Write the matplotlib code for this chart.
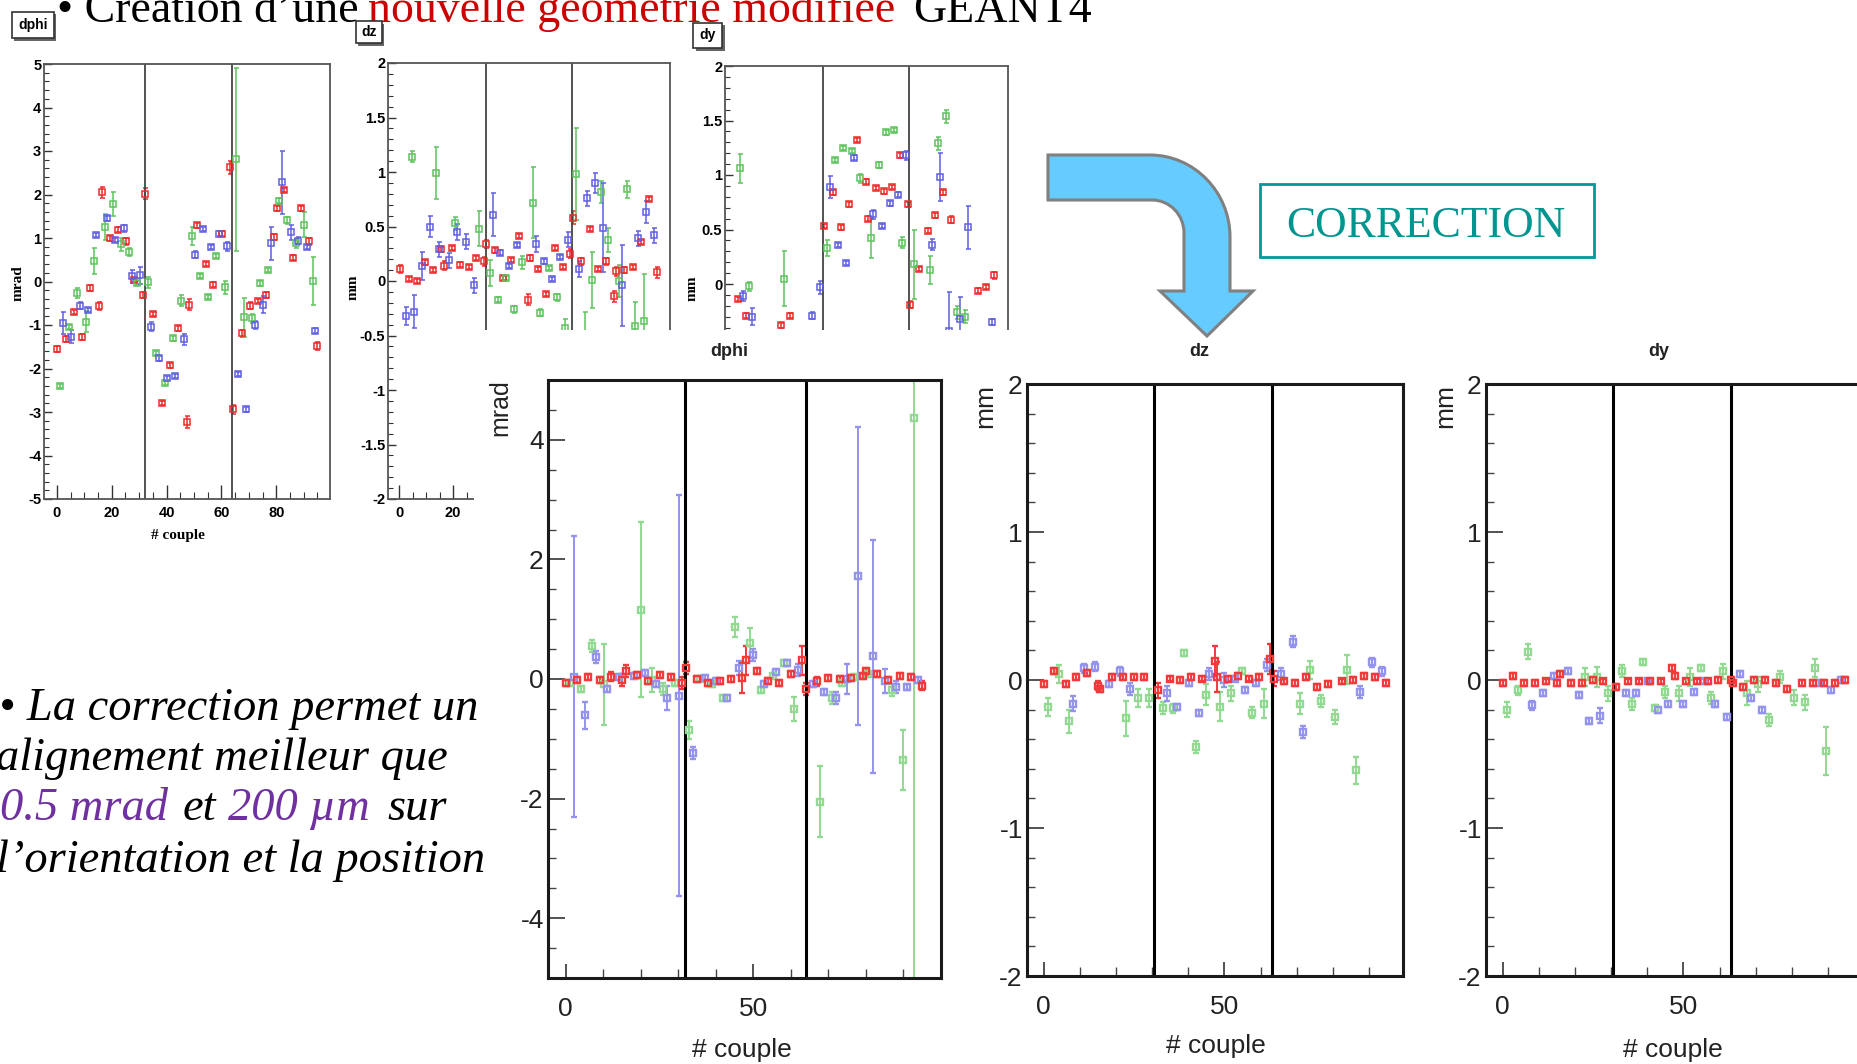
import matplotlib
matplotlib.use("Agg")
import matplotlib.pyplot as plt
from matplotlib.patches import Rectangle, PathPatch
from matplotlib.path import Path
from matplotlib.ticker import MultipleLocator, FixedLocator, FuncFormatter

W, H = 1858, 1064

# (couple, value, error) -- "before" = small plots at top
before_dphi_red = [
    (0.2, -1.55, 0.06), (3.3, -1.32, 0.06), (6.3, -0.70, 0.05), (9.2, -1.28, 0.07),
    (12.2, -0.15, 0.06), (15.3, -0.56, 0.10), (16.4, 2.05, 0.12), (19.5, 0.99, 0.06),
    (22.4, 1.19, 0.06), (25.3, 0.92, 0.07), (28.2, 0.04, 0.05), (31.4, -0.30, 0.07),
    (32.1, 2.02, 0.12), (35.1, -0.74, 0.05), (38.2, -2.80, 0.05), (41.1, -1.93, 0.05),
    (44.1, -1.08, 0.05), (47.3, -3.23, 0.13), (48.3, -0.53, 0.13), (51.2, 1.29, 0.05),
    (54.2, 0.40, 0.05), (57.1, -0.07, 0.05), (60.2, 1.10, 0.05), (63.2, 2.63, 0.15),
    (64.1, -2.94, 0.10), (67.4, -1.19, 0.08), (70.3, -0.56, 0.08), (73.3, -0.45, 0.05),
    (76.2, -0.31, 0.06), (79.3, 1.02, 0.07), (80.1, 1.68, 0.06), (83.0, 2.11, 0.05),
    (86.1, 0.55, 0.05), (89.1, 1.68, 0.06), (92.0, 0.92, 0.08), (95.0, -1.48, 0.10),
]
before_dphi_green = [
    (1.2, -2.40, 0.05), (4.5, -1.05, 0.05), (7.5, -0.26, 0.12), (10.5, -0.92, 0.25),
    (13.5, 0.47, 0.30), (17.4, 1.26, 0.30), (20.3, 1.78, 0.28), (23.3, 0.86, 0.15),
    (26.3, 0.68, 0.10), (29.2, -0.04, 0.05), (33.3, -0.02, 0.12), (36.2, -1.64, 0.05),
    (39.3, -2.34, 0.05), (42.3, -1.31, 0.05), (45.3, -0.44, 0.13), (49.1, 1.05, 0.20),
    (52.2, 0.12, 0.05), (55.1, -0.35, 0.05), (58.1, 0.59, 0.05), (61.2, -0.13, 0.15),
    (65.3, 2.81, 2.10), (68.2, -0.82, 0.45), (71.2, -0.85, 0.10), (74.2, -0.04, 0.06),
    (77.1, 0.26, 0.05), (81.1, 1.86, 0.05), (84.0, 1.41, 0.08), (87.1, 0.88, 0.10),
    (90.2, 1.31, 0.28), (93.3, 0.02, 0.55),
]
before_dphi_blue = [
    (2.3, -0.95, 0.25), (5.3, -1.27, 0.15), (8.4, -0.56, 0.08), (11.3, -0.66, 0.05),
    (14.3, 1.07, 0.05), (18.2, 1.45, 0.05), (21.3, 0.96, 0.05), (24.4, 1.22, 0.08),
    (27.5, 0.12, 0.15), (30.4, 0.14, 0.20), (34.3, -1.04, 0.10), (37.3, -1.77, 0.05),
    (40.1, -2.22, 0.05), (43.2, -2.17, 0.05), (46.2, -1.33, 0.12), (50.3, 0.61, 0.08),
    (53.4, 1.21, 0.05), (56.3, 0.79, 0.05), (59.3, 1.10, 0.05), (62.2, 0.81, 0.10),
    (66.1, -2.12, 0.05), (69.1, -2.94, 0.05), (72.1, -1.00, 0.10), (75.1, -0.53, 0.20),
    (78.1, 0.88, 0.38), (82.2, 2.28, 0.72), (85.2, 1.13, 0.18), (88.1, 0.94, 0.08),
    (91.2, 0.80, 0.05), (94.2, -1.13, 0.05),
]

before_dz_red = [
    (0.5, 0.11, 0.04), (3.5, 0.02, 0.02), (6.5, 0.00, 0.02), (9.5, 0.17, 0.02),
    (12.6, 0.10, 0.02), (15.4, 0.29, 0.02), (16.7, 0.14, 0.04), (19.6, 0.30, 0.02),
    (22.7, 0.15, 0.02), (25.7, 0.13, 0.02), (28.5, 0.21, 0.02), (31.5, 0.18, 0.04),
    (32.3, 0.34, 0.04), (35.3, 0.28, 0.02), (38.4, 0.03, 0.02), (41.4, 0.19, 0.02),
    (44.4, 0.41, 0.02), (47.7, -0.17, 0.05), (48.5, 0.21, 0.03), (51.5, 0.11, 0.02),
    (54.4, -0.12, 0.02), (57.5, 0.30, 0.02), (60.5, 0.13, 0.02), (63.3, 0.25, 0.04),
    (64.3, 0.58, 0.06), (67.4, 0.18, 0.03), (70.5, 0.48, 0.02), (73.5, 0.11, 0.02),
    (76.4, 0.18, 0.03), (79.5, -0.14, 0.05), (80.4, 0.09, 0.04), (83.3, 0.10, 0.03),
    (86.4, 0.13, 0.02), (89.4, 0.36, 0.02), (92.3, 0.75, 0.02), (95.3, 0.08, 0.05),
]
before_dz_green = [
    (4.7, 1.14, 0.05), (13.7, 0.99, 0.24), (20.6, 0.53, 0.06), (29.4, 0.48, 0.16),
    (33.7, 0.07, 0.12), (36.7, -0.17, 0.02), (39.6, 0.03, 0.02), (42.6, -0.26, 0.03),
    (45.6, 0.17, 0.06), (49.4, 0.72, 0.33), (52.3, -0.29, 0.03), (55.4, 0.12, 0.02),
    (58.4, -0.15, 0.03), (61.4, -0.43, 0.08), (65.6, 0.98, 0.42), (68.6, -0.55, 0.27),
    (71.5, 0.01, 0.26), (74.6, 0.82, 0.10), (77.4, 0.38, 0.11), (81.4, 0.00, 0.15),
    (84.2, 0.84, 0.08), (87.3, -0.41, 0.22), (90.5, -0.37, 0.43),
]
before_dz_blue = [
    (2.7, -0.32, 0.08), (5.7, -0.28, 0.15), (8.6, 0.14, 0.13), (11.6, 0.50, 0.10),
    (14.6, 0.29, 0.07), (18.4, 0.19, 0.07), (21.3, 0.45, 0.07), (24.7, 0.36, 0.07),
    (27.7, -0.04, 0.07), (34.6, 0.61, 0.20), (37.5, 0.26, 0.02), (40.5, 0.14, 0.02),
    (43.5, 0.33, 0.02), (50.6, 0.34, 0.07), (53.7, 0.18, 0.02), (56.5, 0.02, 0.02),
    (59.5, 0.22, 0.02), (62.6, 0.38, 0.07), (66.4, 0.11, 0.07), (69.4, 0.76, 0.07),
    (72.3, 0.90, 0.09), (75.3, 0.49, 0.41), (82.5, -0.04, 0.37), (88.4, 0.39, 0.07),
    (91.4, 0.63, 0.10), (94.3, 0.42, 0.07),
]

before_dy_red = [
    (0.1, -0.14, 0.02), (3.1, -0.29, 0.02), (16.3, -0.38, 0.02), (19.4, -0.29, 0.02),
    (32.4, 0.53, 0.02), (35.5, 0.84, 0.02), (38.5, 0.52, 0.02), (41.5, 0.73, 0.02),
    (44.5, 1.32, 0.02), (47.8, 0.94, 0.02), (48.6, 0.60, 0.02), (51.7, 0.88, 0.02),
    (54.7, 0.85, 0.02), (57.7, 0.89, 0.02), (60.6, 1.18, 0.02), (63.6, 0.73, 0.02),
    (64.5, -0.19, 0.03), (67.7, 0.14, 0.02), (70.9, 0.49, 0.02), (73.8, 0.63, 0.02),
    (76.8, 0.84, 0.02), (79.8, 0.59, 0.03), (89.8, -0.06, 0.02), (92.8, -0.03, 0.02),
    (95.8, 0.08, 0.03),
]
before_dy_green = [
    (1.0, 1.06, 0.13), (4.4, -0.02, 0.04), (17.3, 0.05, 0.25), (33.5, 0.33, 0.07),
    (36.5, 1.14, 0.02), (39.5, 1.25, 0.02), (42.6, 1.22, 0.02), (45.7, 0.97, 0.04),
    (49.6, 0.42, 0.18), (52.6, 1.09, 0.03), (55.5, 1.39, 0.02), (58.5, 1.41, 0.02),
    (61.5, 0.38, 0.05), (65.8, 0.18, 0.32), (71.7, 0.13, 0.13), (74.7, 1.29, 0.06),
    (77.7, 1.54, 0.06), (81.7, -0.26, 0.06), (84.7, -0.30, 0.06),
]
before_dy_blue = [
    (2.2, -0.11, 0.05), (5.2, -0.30, 0.08), (27.6, -0.29, 0.03), (30.8, -0.03, 0.06),
    (34.5, 0.89, 0.10), (37.5, 0.36, 0.02), (40.5, 0.19, 0.02), (43.5, 1.16, 0.02),
    (50.7, 0.64, 0.04), (53.7, 0.53, 0.02), (56.7, 0.74, 0.02), (59.7, 0.82, 0.02),
    (62.8, 1.18, 0.04), (72.6, 0.36, 0.05), (75.6, 0.98, 0.22), (78.7, -0.43, 0.36),
    (82.9, -0.32, 0.20), (85.8, 0.52, 0.20), (94.9, -0.35, 0.03),
]

# "after" = the three large plots after correction
after_dphi_red = [
    (0.0, -0.06, 0.05), (3.0, -0.02, 0.05), (6.0, 0.04, 0.05), (9.1, -0.02, 0.05),
    (12.0, 0.04, 0.08), (15.1, -0.02, 0.10), (16.0, 0.14, 0.10), (19.0, 0.06, 0.05),
    (22.0, -0.04, 0.05), (25.1, 0.06, 0.05), (28.0, 0.04, 0.05), (31.0, -0.06, 0.10),
    (32.2, 0.19, 0.10), (35.1, 0.00, 0.05), (38.0, -0.06, 0.05), (41.1, -0.04, 0.05),
    (44.0, 0.00, 0.05), (47.1, 0.02, 0.25), (48.0, 0.31, 0.25), (50.9, 0.14, 0.05),
    (54.0, -0.04, 0.05), (56.9, -0.06, 0.05), (60.1, 0.08, 0.05), (63.1, 0.31, 0.25),
    (64.2, -0.17, 0.10), (67.1, -0.04, 0.08), (70.0, 0.02, 0.05), (73.1, 0.00, 0.05),
    (76.0, 0.02, 0.05), (79.2, 0.05, 0.05), (80.1, 0.14, 0.05), (83.1, 0.09, 0.05),
    (86.0, -0.02, 0.05), (89.1, 0.05, 0.05), (92.0, 0.04, 0.05), (94.9, -0.11, 0.08),
]
after_dphi_green = [
    (1.1, -0.06, 0.05), (4.2, -0.17, 0.05), (7.1, 0.55, 0.10), (10.1, -0.09, 0.68),
    (20.0, 1.16, 1.46), (23.0, -0.02, 0.20), (26.0, -0.17, 0.10), (29.1, -0.06, 0.05),
    (32.9, -0.86, 0.15), (35.9, 0.00, 0.05), (38.9, -0.08, 0.05), (42.0, -0.32, 0.05),
    (45.1, 0.87, 0.16), (49.1, 0.61, 0.25), (52.0, -0.19, 0.05), (55.2, 0.05, 0.05),
    (58.2, 0.27, 0.05), (60.9, -0.50, 0.20), (67.8, -2.05, 0.60), (70.9, -0.31, 0.10),
    (73.8, -0.06, 0.05), (76.9, 0.04, 0.05), (80.7, 0.09, 0.05), (86.9, -0.19, 0.10),
    (90.0, -1.36, 0.50), (93.0, 4.37, 9.50),
]
after_dphi_blue = [
    (2.1, 0.04, 2.35), (5.2, -0.61, 0.22), (8.1, 0.37, 0.10), (11.1, -0.17, 0.05),
    (14.1, 0.04, 0.05), (18.1, 0.05, 0.05), (21.1, 0.10, 0.05), (24.0, -0.08, 0.05),
    (27.1, -0.32, 0.20), (30.2, -0.28, 3.35), (34.0, -1.23, 0.10), (37.1, 0.02, 0.05),
    (40.0, -0.04, 0.05), (43.1, -0.31, 0.05), (46.2, 0.18, 0.12), (50.0, 0.40, 0.10),
    (52.9, -0.09, 0.05), (56.0, 0.11, 0.05), (58.9, 0.27, 0.05), (62.0, 0.15, 0.10),
    (66.0, -0.09, 0.05), (68.9, -0.21, 0.05), (72.0, -0.32, 0.10), (75.1, 0.00, 0.25),
    (78.0, 1.72, 2.49), (82.0, 0.38, 1.95), (85.1, -0.04, 0.20), (88.1, -0.14, 0.10),
    (91.1, -0.14, 0.05), (94.0, -0.02, 0.05),
]

after_dz_red = [
    (0.2, -0.03, 0.02), (3.0, 0.06, 0.02), (6.2, -0.03, 0.02), (9.0, 0.02, 0.02),
    (12.0, 0.05, 0.02), (15.0, -0.04, 0.03), (15.7, -0.06, 0.02), (18.9, 0.02, 0.02),
    (21.9, 0.02, 0.02), (24.9, 0.02, 0.02), (27.9, 0.02, 0.02), (31.5, -0.07, 0.05),
    (34.9, 0.01, 0.02), (37.8, 0.00, 0.02), (40.8, 0.02, 0.02), (43.8, 0.01, 0.02),
    (47.5, 0.13, 0.10), (48.0, 0.02, 0.10), (50.9, 0.01, 0.02), (53.8, 0.03, 0.02),
    (56.7, 0.01, 0.02), (59.7, 0.02, 0.02), (62.7, 0.14, 0.10), (63.8, 0.01, 0.05),
    (66.4, -0.01, 0.02), (69.6, -0.02, 0.02), (72.7, 0.02, 0.02), (75.6, -0.05, 0.02),
    (78.6, -0.03, 0.02), (82.6, -0.01, 0.02), (85.6, 0.00, 0.02), (88.6, 0.03, 0.02),
    (91.6, 0.02, 0.02), (94.6, -0.02, 0.02),
]
after_dz_green = [
    (1.1, -0.18, 0.06), (4.2, 0.04, 0.06), (7.1, -0.28, 0.08), (22.9, -0.26, 0.12),
    (26.1, -0.12, 0.06), (29.1, -0.12, 0.06), (33.0, -0.19, 0.04), (35.8, -0.19, 0.03),
    (38.7, 0.18, 0.02), (42.1, -0.45, 0.04), (44.8, -0.10, 0.07), (48.9, -0.18, 0.10),
    (51.8, -0.09, 0.05), (54.9, 0.06, 0.02), (57.7, -0.22, 0.04), (60.9, -0.16, 0.10),
    (71.0, -0.16, 0.07), (73.6, 0.07, 0.06), (76.8, -0.14, 0.04), (80.6, -0.25, 0.05),
    (83.8, 0.07, 0.10), (86.5, -0.61, 0.09),
]
after_dz_blue = [
    (8.1, -0.16, 0.05), (11.1, 0.08, 0.03), (14.1, 0.09, 0.03), (18.0, -0.03, 0.02),
    (21.0, 0.06, 0.03), (23.9, -0.06, 0.04), (34.1, -0.09, 0.05), (36.9, -0.18, 0.02),
    (40.1, -0.02, 0.02), (43.0, -0.22, 0.02), (45.7, 0.04, 0.04), (50.0, 0.00, 0.05),
    (52.8, 0.01, 0.02), (55.6, -0.07, 0.02), (58.8, -0.02, 0.02), (61.8, 0.10, 0.04),
    (65.7, 0.04, 0.04), (68.9, 0.26, 0.04), (71.7, -0.35, 0.04), (87.5, -0.08, 0.04),
    (90.7, 0.12, 0.03), (93.6, 0.06, 0.03),
]

after_dy_red = [
    (0.2, -0.02, 0.02), (3.0, 0.03, 0.02), (6.0, -0.02, 0.02), (9.0, -0.02, 0.02),
    (12.0, -0.01, 0.02), (15.0, -0.02, 0.02), (15.9, 0.04, 0.02), (18.9, -0.02, 0.02),
    (22.0, -0.02, 0.02), (24.9, 0.00, 0.02), (27.9, -0.01, 0.02), (31.4, -0.05, 0.02),
    (34.8, -0.01, 0.02), (37.8, -0.01, 0.02), (40.8, -0.01, 0.02), (43.8, -0.01, 0.02),
    (46.9, 0.08, 0.02), (47.8, 0.03, 0.02), (50.7, -0.01, 0.02), (53.8, -0.01, 0.02),
    (56.7, -0.01, 0.02), (59.7, 0.00, 0.02), (63.2, 0.00, 0.02), (63.8, -0.02, 0.02),
    (66.6, -0.05, 0.02), (69.6, 0.00, 0.02), (72.7, 0.00, 0.02), (75.6, -0.02, 0.02),
    (78.7, -0.06, 0.02), (82.7, -0.02, 0.02), (85.8, -0.02, 0.02), (88.8, -0.02, 0.02),
    (91.8, -0.02, 0.02), (94.8, 0.00, 0.02),
]
after_dy_green = [
    (1.1, -0.20, 0.05), (4.2, -0.07, 0.03), (7.1, 0.19, 0.05), (22.9, 0.02, 0.06),
    (26.1, 0.02, 0.07), (29.1, -0.09, 0.05), (33.0, 0.06, 0.04), (35.8, -0.16, 0.04),
    (38.7, 0.12, 0.02), (42.1, -0.19, 0.02), (44.8, -0.08, 0.04), (48.9, -0.09, 0.05),
    (51.8, 0.02, 0.06), (54.9, 0.08, 0.02), (57.7, -0.12, 0.04), (60.9, 0.06, 0.05),
    (67.6, -0.09, 0.08), (70.6, -0.03, 0.05), (73.6, -0.27, 0.04), (76.6, 0.02, 0.04),
    (80.5, -0.12, 0.05), (83.7, -0.15, 0.05), (86.5, 0.08, 0.06), (89.5, -0.48, 0.16),
]
after_dy_blue = [
    (8.0, -0.17, 0.03), (11.1, -0.09, 0.02), (14.1, 0.03, 0.02), (18.2, 0.06, 0.02),
    (21.0, -0.10, 0.02), (24.0, -0.28, 0.02), (26.9, -0.24, 0.05), (34.1, -0.09, 0.02),
    (36.9, -0.09, 0.02), (40.1, -0.01, 0.02), (43.0, -0.20, 0.02), (45.7, -0.16, 0.02),
    (49.8, -0.16, 0.02), (52.8, -0.08, 0.02), (55.8, -0.01, 0.02), (58.8, -0.16, 0.02),
    (62.0, -0.25, 0.02), (65.7, 0.04, 0.02), (68.7, -0.12, 0.02), (71.7, -0.20, 0.02),
    (87.5, -0.02, 0.02), (90.7, -0.07, 0.02), (93.6, 0.00, 0.02),
]

top_separators = [32, 64]
dphi_after_separators = [31.9, 64.0]
dzdy_after_separators = [30.6, 63.1]

SERIF = ["Liberation Serif", "DejaVu Serif"]
SANS = ["Liberation Sans", "DejaVu Sans"]
plt.rcParams["font.family"] = SANS
plt.rcParams["axes.unicode_minus"] = False

TOP_COLORS = {"red": "#ec2b2b", "green": "#5cc45c", "blue": "#5f5fe0"}
BOT_COLORS = {"red": "#f23a3a", "green": "#92d992", "blue": "#9494ee"}


def fx(px):
    return px / W


def fy(py):
    return 1 - py / H


def px_axes(fig, left, top, right, bottom, zorder):
    ax = fig.add_axes([fx(left), fy(bottom), (right - left) / W, (bottom - top) / H])
    ax.set_zorder(zorder)
    return ax


def draw_points(ax, pts, color, ms, mew, elw, cap):
    x = [p[0] for p in pts]
    y = [p[1] for p in pts]
    e = [p[2] for p in pts]
    ax.errorbar(x, y, yerr=e, fmt="s", ms=ms, mfc="none", mec=color, mew=mew,
                ecolor=color, elinewidth=elw, capsize=cap, capthick=elw)


def num(v, _):
    return f"{v:g}"


def small_panel(fig, box, xlim, ylim, ymaj, ymin, series, xticks=(0, 20, 40, 60, 80)):
    ax = px_axes(fig, *box, zorder=1)
    for pts, c in series:
        draw_points(ax, pts, TOP_COLORS[c], ms=4.2, mew=1.1, elw=1.1, cap=1.8)
    for xv in top_separators:
        ax.axvline(xv, color="#444444", lw=1.3)
    ax.set_xlim(*xlim)
    ax.set_ylim(*ylim)
    ax.xaxis.set_major_locator(FixedLocator(list(xticks)))
    ax.xaxis.set_minor_locator(MultipleLocator(5))
    ax.yaxis.set_major_locator(MultipleLocator(ymaj))
    ax.yaxis.set_minor_locator(MultipleLocator(ymin))
    ax.yaxis.set_major_formatter(FuncFormatter(num))
    ax.tick_params(which="both", direction="in", top=False, right=False, color="#333333")
    ax.tick_params(axis="y", which="major", length=6, width=1.0, pad=2, labelsize=10.5)
    ax.tick_params(axis="y", which="minor", length=3.5, width=0.8)
    ax.tick_params(axis="x", which="major", length=10, width=1.0, pad=5, labelsize=10.5)
    ax.tick_params(axis="x", which="minor", length=5, width=0.8)
    for lab in ax.get_xticklabels() + ax.get_yticklabels():
        lab.set_fontweight("bold")
    for s in ax.spines.values():
        s.set_color("#555555")
        s.set_linewidth(1.3)
    return ax


def big_panel(fig, box, xlim, ylim, ymaj, ymin, seps, series):
    ax = px_axes(fig, *box, zorder=3)
    for pts, c in series:
        draw_points(ax, pts, BOT_COLORS[c], ms=4.6, mew=1.7, elw=1.4, cap=2.2)
    for xv in seps:
        ax.axvline(xv, color="black", lw=2.2)
    ax.set_xlim(*xlim)
    ax.set_ylim(*ylim)
    ax.xaxis.set_major_locator(FixedLocator([0, 50]))
    ax.xaxis.set_minor_locator(MultipleLocator(10))
    ax.yaxis.set_major_locator(MultipleLocator(ymaj))
    ax.yaxis.set_minor_locator(MultipleLocator(ymin))
    ax.yaxis.set_major_formatter(FuncFormatter(num))
    ax.tick_params(which="both", direction="in", top=False, right=False, color="#444444")
    ax.tick_params(axis="y", which="major", length=12, width=1.3, pad=3, labelsize=19,
                   labelcolor="#222222")
    ax.tick_params(axis="y", which="minor", length=6, width=1.0)
    ax.tick_params(axis="x", which="major", length=10, width=1.3, pad=14, labelsize=19,
                   labelcolor="#222222")
    ax.tick_params(axis="x", which="minor", length=6.5, width=1.0)
    for s in ax.spines.values():
        s.set_color("#1a1a1a")
        s.set_linewidth(2.2)
    return ax


def tag(fig, x0, y0, x1, y1, text):
    w, h = (x1 - x0) / W, (y1 - y0) / H
    fig.add_artist(Rectangle((fx(x0 + 2.5), fy(y1 + 2.5)), w, h, transform=fig.transFigure,
                             fc="#666666", ec="none", zorder=7))
    fig.add_artist(Rectangle((fx(x0), fy(y1)), w, h, transform=fig.transFigure,
                             fc="white", ec="#333333", lw=1.2, zorder=8))
    fig.text(fx((x0 + x1) / 2), fy((y0 + y1) / 2), text, ha="center", va="center",
             fontsize=10, weight="bold", zorder=9)


fig = plt.figure(figsize=(W / 100, H / 100), dpi=100)

# ---- small "before" plots ----
small_panel(fig, (44, 64, 330, 499), (-4.7, 99.6), (-5, 5), 1, 0.2,
            [(before_dphi_red, "red"), (before_dphi_green, "green"), (before_dphi_blue, "blue")])
small_panel(fig, (388, 63, 670, 499), (-4.1, 100.2), (-2, 2), 0.5, 0.1,
            [(before_dz_red, "red"), (before_dz_green, "green"), (before_dz_blue, "blue")],
            xticks=(0, 20))
small_panel(fig, (725, 66, 1008, 502), (-4.7, 100.9), (-2, 2), 0.5, 0.1,
            [(before_dy_red, "red"), (before_dy_green, "green"), (before_dy_blue, "blue")],
            xticks=(0, 20))

fig.text(fx(18), fy(283), "mrad", rotation=90, ha="center", va="center", fontsize=11,
         weight="bold", family=SERIF, zorder=5)
fig.text(fx(178), fy(536), "# couple", ha="center", va="center", fontsize=11,
         weight="bold", family=SERIF, zorder=5)
fig.text(fx(353), fy(287), "mm", rotation=90, ha="center", va="center", fontsize=11,
         weight="bold", family=SERIF, zorder=5)
fig.text(fx(692), fy(288), "mm", rotation=90, ha="center", va="center", fontsize=11,
         weight="bold", family=SERIF, zorder=5)

# the corrected plots were pasted over the lower part of the small ones
fig.add_artist(Rectangle((fx(474), 0), 1 - fx(474), fy(330), transform=fig.transFigure,
                         fc="white", ec="none", zorder=2))

# ---- large "after" plots ----
big_panel(fig, (548, 380, 941, 978), (-4.7, 100.1), (-5, 5), 2, 0.5, dphi_after_separators,
          [(after_dphi_green, "green"), (after_dphi_blue, "blue"), (after_dphi_red, "red")])
big_panel(fig, (1027, 384, 1403, 976), (-4.6, 99.4), (-2, 2), 1, 0.2, dzdy_after_separators,
          [(after_dz_green, "green"), (after_dz_blue, "blue"), (after_dz_red, "red")])
big_panel(fig, (1486, 384, 1862, 976), (-4.6, 99.4), (-2, 2), 1, 0.2, dzdy_after_separators,
          [(after_dy_green, "green"), (after_dy_blue, "blue"), (after_dy_red, "red")])

for x, txt in [(729, "dphi"), (1199, "dz"), (1659, "dy")]:
    fig.text(fx(x), fy(351), txt, ha="center", va="center", fontsize=13, weight="bold",
             color="#222222", zorder=5)
fig.text(fx(500), fy(379), "mrad", rotation=90, ha="center", va="top", fontsize=18,
         color="#222222", zorder=5)
fig.text(fx(985), fy(384), "mm", rotation=90, ha="center", va="top", fontsize=19,
         color="#222222", zorder=5)
fig.text(fx(1445), fy(384), "mm", rotation=90, ha="center", va="top", fontsize=19,
         color="#222222", zorder=5)
for x, y in [(742, 1050), (1216, 1046), (1673, 1050)]:
    fig.text(fx(x), fy(y), "# couple", ha="center", va="center", fontsize=19,
             color="#222222", zorder=5)

# ---- slide texts ----
fig.text(fx(57), fy(22), "• Création d’une", ha="left", va="baseline", fontsize=33,
         family=SERIF, zorder=5)
fig.text(fx(368), fy(22), "nouvelle géométrie modifiée", ha="left", va="baseline",
         fontsize=33, family=SERIF, color="#cc0000", zorder=5)
fig.text(fx(913), fy(22), "GEANT4", ha="left", va="baseline", fontsize=33,
         family=SERIF, zorder=5)

tag(fig, 12, 12, 54, 38, "dphi")
tag(fig, 356, 21, 382, 43, "dz")
tag(fig, 693, 23, 722, 48, "dy")

purple = "#7030a0"
it = dict(va="baseline", fontsize=33.5, family=SERIF, style="italic", zorder=5)
fig.text(fx(-1), fy(720), "• La correction permet un", ha="left", **it)
fig.text(fx(-4), fy(770), "alignement meilleur que", ha="left", **it)
fig.text(fx(168), fy(820), "0.5 mrad", ha="right", color=purple, **it)
fig.text(fx(183), fy(820), "et", ha="left", **it)
fig.text(fx(228), fy(820), "200 µm", ha="left", color=purple, **it)
fig.text(fx(387), fy(820), "sur", ha="left", **it)
fig.text(fx(-4), fy(872), "l’orientation et la position", ha="left", **it)

# bent arrow
M, L, C4, CL = Path.MOVETO, Path.LINETO, Path.CURVE4, Path.CLOSEPOLY
arrow_px = [(1048, 155), (1150, 155), (1194, 155), (1230, 192), (1230, 237),
            (1230, 291), (1253, 291), (1207, 336), (1160, 291), (1184, 291),
            (1184, 233), (1184, 215), (1170, 200), (1152, 200), (1048, 200), (1048, 155)]
codes = [M, L, C4, C4, C4, L, L, L, L, L, L, C4, C4, C4, L, CL]
arrow = Path([(fx(x), fy(y)) for x, y in arrow_px], codes)
fig.add_artist(PathPatch(arrow, transform=fig.transFigure, fc="#66ccff", ec="#808080",
                         lw=2.2, zorder=6))

fig.add_artist(Rectangle((fx(1260), fy(257)), (1594 - 1260) / W, (257 - 184) / H,
                         transform=fig.transFigure, fc="white", ec="#009999", lw=2,
                         zorder=6))
fig.text(fx(1426), fy(237), "CORRECTION", ha="center", va="baseline", fontsize=31.5,
         family=SERIF, color="#009690", zorder=7)

fig.savefig("out.png", dpi=100)
